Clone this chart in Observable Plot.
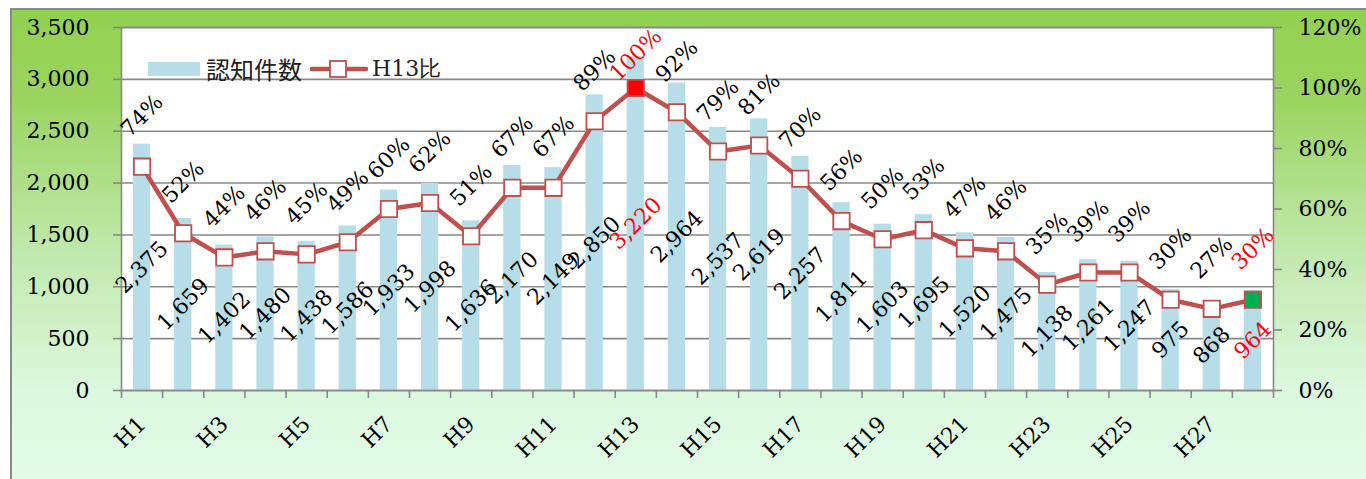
<!DOCTYPE html>
<html>
<head>
<meta charset="utf-8">
<script src="https://cdn.jsdelivr.net/npm/d3@7"></script>
<script src="https://cdn.jsdelivr.net/npm/@observablehq/plot@0.6"></script>
<style>
  html, body { margin: 0; padding: 0; background: #fff; }
  #wrap { position: relative; width: 1366px; height: 479px; overflow: hidden; }
  #bg { position: absolute; left: 10px; top: 8px; width: 1400px; height: 500px; box-sizing: border-box;
        border: 2px solid #8a8a8a;
        background: linear-gradient(to bottom, #92d050 0px, #9bd460 90px, #c3e9b0 250px, #dcf8df 380px, #e3fbe8 471px); }
  #chart { position: absolute; left: 0; top: 0; }
  #chart svg text { font-family: "DejaVu Serif", "Liberation Serif", serif; }
  #legend { position: absolute; left: 148px; top: 51px; display: flex; align-items: center;
            font-family: "Noto Sans CJK JP", sans-serif; font-size: 24px; color: #222; }
  #legend .h13 { font-family: "DejaVu Serif", "Liberation Serif", serif; font-size: 22px; }
</style>
</head>
<body>
<div id="wrap">
  <div id="bg"></div>
  <div id="chart"></div>
  <div id="legend">
    <svg width="54" height="16" style="margin-right:4px"><rect x="0" y="1" width="52" height="14" fill="#b7dde8"/></svg>
    <span>認知件数</span>
    <svg width="58" height="24" style="margin-left:8px;margin-right:4px">
      <line x1="2" y1="12" x2="56" y2="12" stroke="#c0504d" stroke-width="4.5" stroke-linecap="round"/>
      <rect x="20" y="4" width="16" height="16" fill="#fff" stroke="#c0504d" stroke-width="1.8"/>
    </svg>
    <span class="h13">H13比</span>
  </div>
</div>
<script>
// ---- data ----
const years = ["H1","H2","H3","H4","H5","H6","H7","H8","H9","H10","H11","H12","H13","H14",
               "H15","H16","H17","H18","H19","H20","H21","H22","H23","H24","H25","H26","H27","H28"];
const counts = [2375,1659,1402,1480,1438,1586,1933,1998,1636,2170,2149,2850,3220,2964,
                2537,2619,2257,1811,1603,1695,1520,1475,1138,1261,1247,975,868,964];
const ratios = [74,52,44,46,45,49,60,62,51,67,67,89,100,92,
                79,81,70,56,50,53,47,46,35,39,39,30,27,30];
const leftTicks = [0,500,1000,1500,2000,2500,3000,3500];
const rightTicks = [0,20,40,60,80,100,120];
const xLabelYears = ["H1","H3","H5","H7","H9","H11","H13","H15","H17","H19","H21","H23","H25","H27"];
const baseYear = "H13";
const latestYear = "H28";

// ---- derived ----
const yMax = 3500, pMax = 120;
const pToY = p => p / pMax * yMax;          // secondary axis mapping
const rows = years.map((y, k) => ({year: y, i: k + 1, count: counts[k], pct: ratios[k]}));
const idx = y => years.indexOf(y) + 1;
const boundaries = d3.range(years.length + 1).map(k => k + 0.5);
const fmt = d3.format(",");
const hl = d => d.year === baseYear || d.year === latestYear;
const markerFill = d => d.year === baseYear ? "#ff0000" : d.year === latestYear ? "#00b050" : "#ffffff";
const labelFill = d => hl(d) ? "#ff0000" : "#000000";

const FONT = "'DejaVu Serif', 'Liberation Serif', serif";
const GRAY = "#888888";
const chart = Plot.plot({
  width: 1366, height: 479,
  marginLeft: 121, marginRight: 93, marginTop: 27, marginBottom: 89,
  x: {type: "linear", domain: [0.5, years.length + 0.5]},
  y: {domain: [0, yMax]},
  style: {background: "transparent", fontFamily: FONT, fontSize: "22px", overflow: "visible", color: "#000"},
  marks: [
    Plot.frame({fill: "white", stroke: null}),
    Plot.gridY({ticks: leftTicks, stroke: GRAY, strokeOpacity: 1, strokeWidth: 1.6}),
    Plot.rect(rows, {x1: d => d.i - 0.21, x2: d => d.i + 0.21, y1: 0, y2: "count", fill: "#b7dde8"}),
    Plot.frame({stroke: GRAY, strokeWidth: 1.6}),
    Plot.axisY({anchor: "left", ticks: leftTicks, tickSize: 8, tickPadding: 24, tickFormat: fmt,
                stroke: GRAY, strokeWidth: 1.6, fill: "#000", label: null, fontSize: 22, fontFamily: FONT}),
    Plot.axisY({anchor: "right", ticks: rightTicks.map(pToY), tickSize: 8, tickPadding: 17,
                tickFormat: v => Math.round(v / yMax * pMax) + "%",
                stroke: GRAY, strokeWidth: 1.6, fill: "#000", label: null, fontSize: 22, fontFamily: FONT}),
    Plot.axisX({ticks: boundaries, tickSize: 8, tickFormat: () => "", stroke: GRAY, strokeWidth: 1.6, label: null}),
    Plot.axisX({ticks: xLabelYears.map(idx), tickSize: 0, tickPadding: 30, tickRotate: -45,
                tickFormat: v => years[v - 1], fill: "#000", label: null, fontSize: 22, fontFamily: FONT}),
    Plot.line(rows, {x: "i", y: d => pToY(d.pct), stroke: "#c0504d", strokeWidth: 4.5}),
    Plot.dot(rows, {x: "i", y: d => pToY(d.pct), symbol: "square", r: 9.2,
                    fill: markerFill, stroke: "#c0504d", strokeWidth: 1.8}),
    Plot.text(rows, {x: "i", y: d => d.count / 2, text: d => fmt(d.count), rotate: -45,
                     fill: labelFill, fontSize: 22, fontFamily: FONT}),
    Plot.text(rows.filter(d => d.year !== baseYear), {x: "i", y: d => pToY(d.pct), dy: -51,
                     text: d => d.pct + "%", rotate: -45, fill: labelFill, fontSize: 22, fontFamily: FONT}),
    Plot.text(rows.filter(d => d.year === baseYear), {x: "i", y: d => pToY(d.pct), dy: -33,
                     text: d => d.pct + "%", rotate: -45, fill: labelFill, fontSize: 22, fontFamily: FONT})
  ]
});
document.getElementById("chart").appendChild(chart);
</script>
</body>
</html>
